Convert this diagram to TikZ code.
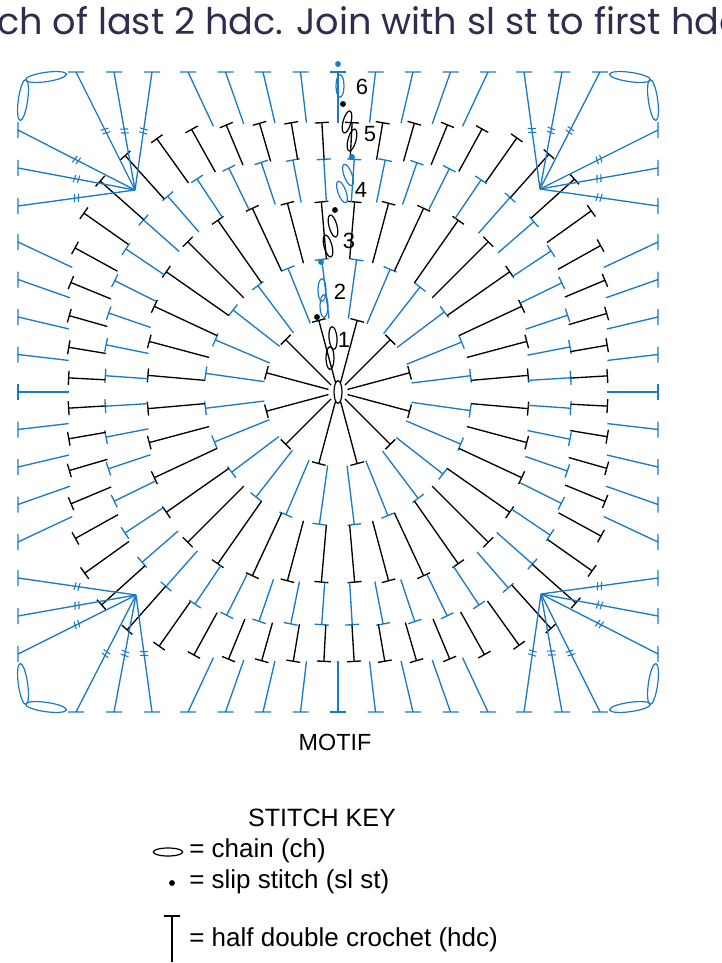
\documentclass[tikz,border=0pt]{standalone}
\usepackage{fontspec}
\setmainfont{Liberation Sans}
\newfontfamily\popp{Poppins}
\usetikzlibrary{calc,shapes.geometric}
\definecolor{cb}{HTML}{1A7BC4}
\definecolor{navy}{HTML}{2D2D4F}
\newcommand\hdcring[7]{%
 \foreach \i in {1,...,#1}{%
  \pgfmathsetmacro\a{#7+\i*(360/#1)}
  \pgfmathsetmacro\ri{#2*exp(-ln(pow(abs(cos(\a))+0.01,#3)+pow(abs(sin(\a))+0.01,#3))/#3)}
  \pgfmathsetmacro\ro{#4*exp(-ln(pow(abs(cos(\a))+0.01,#5)+pow(abs(sin(\a))+0.01,#5))/#5)}
  \draw[#6] ($(C)+(\a:\ri)$) -- ($(C)+(\a:\ro)$) ++(\a+90:7) -- ++(\a-90:14);
 }}
\tikzset{st/.style={line width=1pt},ch/.style={draw,ellipse,minimum width=6pt,minimum height=17pt,inner sep=0,line width=0.9pt,rotate=#1},
 hash/.style={pos=0.5,sloped,inner sep=0},
 lab/.style={font=\fontsize{16.5}{19}\selectfont},
 klab/.style={font=\fontsize{19.5}{22}\selectfont,anchor=west,inner sep=0}}
\newcommand\hsh{\tikz\draw[cb,line width=0.8pt] (0,0)--(1pt,6pt) (3pt,0)--(4pt,6pt);}
\begin{document}
\begin{tikzpicture}[x=0.75pt,y=-0.75pt]
\useasboundingbox (0,0) rectangle (721,963);
\node[anchor=west,inner sep=0,font=\popp\fontsize{27.5}{30}\selectfont,text=navy] (title) at (-3,21) {ch of last 2 hdc. Join with sl st to first hdc};
\coordinate (C) at (338,392);
% rounds 1-5
\hdcring{12}{10}{2}{75}{2}{st,black}{-75}
\hdcring{24}{75}{2}{135}{2}{st,cb}{-82}
\hdcring{36}{135}{2}{192}{3}{st,black}{-85}
\hdcring{48}{192}{3}{235}{3}{st,cb}{-86}
\hdcring{56}{235}{3}{272}{4}{st,black}{-87}
% round 6
\foreach \s in {0,90,180,270}{
 \foreach \j in {0,...,8}{
  \pgfmathsetmacro\off{-150+\j*37.5}
  \pgfmathsetmacro\a{\s+atan(\off/320)}
  \pgfmathsetmacro\ri{272*exp(-ln(pow(abs(cos(\a))+0.01,4)+pow(abs(sin(\a))+0.01,4))/4)}
  \draw[st,cb] ($(C)+(\a:\ri)$) -- ($(C)+(\s:320)+(\s+90:\off)$) ++(\s+90:8) -- ++(\s-90:16);
 }
 \coordinate (P) at ($(C)+(\s:203)+(\s+90:202)$);
 \foreach \o in {186,224,262}{
  \draw[st,cb] (P) -- ($(C)+(\s:320)+(\s+90:\o)$) node[hash]{\hsh} ++(\s+90:8) -- ++(\s-90:16);
  \draw[st,cb] (P) -- ($(C)+(\s+90:320)+(\s:\o)$) node[hash]{\hsh} ++(\s:8) -- ++(\s+180:16);
 }
 \node[ch=\s-8,draw=cb,minimum height=31pt,minimum width=7pt] (ka\s) at ($(C)+(\s:315)+(\s+90:292)$) {};
 \node[ch=\s+98,draw=cb,minimum height=31pt,minimum width=7pt] (kb\s) at ($(C)+(\s:292)+(\s+90:315)$) {};
}
% starting column
\node[ch=0] (c0) at (338,392) {};
\node[ch=5] (c1) at (333,338) {};
\node[ch=0] (c1b) at (330,358) {};
\fill (317,317) circle (2.2pt);
\node[ch=0,draw=cb] (c2) at (322,290) {};
\node[ch=0,draw=cb] (c2b) at (324,306) {};
\fill[cb] (321,262) circle (2.2pt);
\node[ch=15] (c3) at (328,246) {};
\node[ch=15] (c3b) at (333,226) {};
\fill (335,210) circle (2.2pt);
\node[ch=20,draw=cb] (c4) at (342,192) {};
\node[ch=20,draw=cb] (c4b) at (348,175) {};
\fill[cb] (352,157) circle (2.2pt);
\node[ch=-15] (c5) at (352,140) {};
\node[ch=-15] (c5b) at (347,122) {};
\fill (343,104) circle (2.2pt);
\node[ch=0,draw=cb] (c6) at (340,86) {};
\fill[cb] (338,64) circle (2.2pt);
\node[lab] (l1) at (344,340) {1};
\node[lab] (l2) at (340,292) {2};
\node[lab] (l3) at (349,241) {3};
\node[lab] (l4) at (361,190) {4};
\node[lab] (l5) at (370,134) {5};
\node[lab] (l6) at (362,87) {6};
% labels
\node[font=\fontsize{17.5}{20}\selectfont] (motif) at (335,742) {MOTIF};
\node[font=\fontsize{18.8}{21}\selectfont] (key) at (322,818) {STITCH KEY};
\node[draw,ellipse,minimum width=22pt,minimum height=6pt,inner sep=0,line width=0.9pt] (kc) at (168,852) {};
\node[klab] (kct) at (189,851) {= chain (ch)};
\fill (172,883) circle (2.2pt);
\coordinate (kd) at (172,883);
\node[klab] (kdt) at (189,882) {= slip stitch (sl st)};
\coordinate (kt) at (172,916);
\coordinate (kb) at (172,962);
\draw[st] (kb) -- (kt) ++(-8,0) -- ++(16,0);
\node[klab] (ktt) at (189,940) {= half double crochet (hdc)};
\end{tikzpicture}
\end{document}
